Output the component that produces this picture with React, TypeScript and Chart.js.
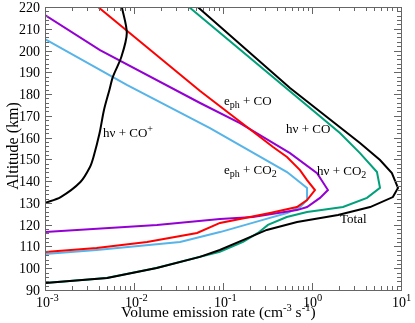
import React, { useEffect, useRef } from "react";
import { Chart, registerables } from "chart.js";

Chart.register(...registerables);

// Data (altitude in km, volume emission rate in cm^-3 s^-1)
const totalAlt = [220, 182.8, 157.5, 149.7, 143.7, 136.9, 132.7, 128.1, 124.5, 121.2, 117.6, 113, 108.4, 105.2, 100.1, 95.5, 93.2];
const totalVal = [0.052, 0.566, 3.46, 5.81, 7.9, 9.25, 8.1, 4.5, 1.96, 0.68, 0.31, 0.17, 0.092, 0.055, 0.018, 0.005, 0.001];

const hvCOAlt = [220, 162.1, 152.9, 144.2, 136.9, 132.3, 128.1, 125.8, 123.5, 119.9, 116.2, 112.1, 107.5, 105.2, 100.1, 95.5, 93.2];
const hvCOVal = [0.0415, 2.06, 3.46, 5.37, 5.81, 4.15, 2.23, 0.88, 0.52, 0.32, 0.247, 0.168, 0.092, 0.054, 0.0178, 0.0049, 0.001];

const ephCOAlt = [220, 181.4, 155.7, 151.1, 145.1, 140.5, 135.9, 131.3, 128.1, 125.4, 120.8, 116.2, 112.1, 109.3, 107.5];
const ephCOVal = [0.00395, 0.0553, 0.365, 0.524, 0.733, 0.88, 1.08, 0.88, 0.677, 0.337, 0.0925, 0.0511, 0.014, 0.0038, 0.001];

const hvCO2Alt = [216.3, 200.2, 175.9, 166.7, 152.9, 143.7, 135.9, 132.3, 128.1, 126.7, 123.5, 122.6, 119.9, 116.6];
const hvCO2Val = [0.001, 0.00415, 0.0553, 0.155, 0.566, 1.14, 1.51, 1.23, 0.88, 0.677, 0.217, 0.0925, 0.0181, 0.001];

const ephCO2Alt = [205.3, 184.2, 164.4, 144.2, 136.9, 131.3, 128.1, 125.4, 122.2, 116.6, 112.1, 108.4, 106.5];
const ephCO2Val = [0.001, 0.0083, 0.0714, 0.524, 0.88, 0.88, 0.733, 0.524, 0.281, 0.0925, 0.0329, 0.0038, 0.001];

const hvCOpAlt = [220, 208, 197, 188, 182, 172.7, 162, 151, 146.5, 139.6, 132.7, 130];
const hvCOpVal = [0.0073, 0.0083, 0.0072, 0.0058, 0.0053, 0.0046, 0.0041, 0.0035, 0.0032, 0.0025, 0.0015, 0.001];

const xExponents = [-3, -2, -1, 0, 1];
const yTickValues = [90, 100, 110, 120, 130, 140, 150, 160, 170, 180, 190, 200, 210, 220];

const FONT = "'Liberation Serif', 'Times New Roman', serif";

type Piece = { t: string; dy?: number; size?: number };

function drawRich(ctx: CanvasRenderingContext2D, x: number, y: number, pieces: Piece[], base: number) {
  let cx = x;
  for (const p of pieces) {
    const s = p.size ?? base;
    ctx.font = `${s}px ${FONT}`;
    ctx.fillText(p.t, cx, y + (p.dy ?? 0));
    cx += ctx.measureText(p.t).width;
  }
}

const toPts = (alt: number[], val: number[]) => alt.map((a, i) => ({ x: val[i], y: a }));

const framePlugin = {
  id: "frame",
  afterDatasetsDraw(chart: any) {
    const { ctx, chartArea, scales } = chart;
    const { left, right, top, bottom } = chartArea;
    const xs = scales.x;
    const ys = scales.y;
    ctx.save();
    ctx.strokeStyle = "#666";
    ctx.lineWidth = 1;
    ctx.strokeRect(Math.round(left) + 0.5, Math.round(top) + 0.5, Math.round(right - left), Math.round(bottom - top));
    ctx.beginPath();
    for (let v = 90; v <= 220; v += 2) {
      const py = Math.round(ys.getPixelForValue(v)) + 0.5;
      const len = v % 10 === 0 ? 7 : 4;
      ctx.moveTo(left, py);
      ctx.lineTo(left + len, py);
      ctx.moveTo(right, py);
      ctx.lineTo(right - len, py);
    }
    for (const e of xExponents) {
      for (let m = 1; m <= 9; m++) {
        if (e === 1 && m > 1) break;
        const v = m * Math.pow(10, e);
        const px = Math.round(xs.getPixelForValue(v)) + 0.5;
        const len = m === 1 ? 7 : 4;
        ctx.moveTo(px, bottom);
        ctx.lineTo(px, bottom - len);
        ctx.moveTo(px, top);
        ctx.lineTo(px, top + len);
      }
    }
    ctx.stroke();

    ctx.fillStyle = "#000";
    ctx.textBaseline = "alphabetic";
    // y tick labels
    ctx.textAlign = "right";
    ctx.font = `14px ${FONT}`;
    for (const v of yTickValues) {
      const py = ys.getPixelForValue(v);
      ctx.fillText(String(v), left - 5, py + 5);
    }
    ctx.textAlign = "left";
    // x tick labels
    for (const e of xExponents) {
      const px = xs.getPixelForValue(Math.pow(10, e));
      drawRich(ctx, px - 9, 307, [{ t: "10" }, { t: e < 0 ? "-" + Math.abs(e) : String(e), dy: -6, size: 10.5 }], 14);
    }
    // axis titles
    drawRich(ctx, 121, 317, [
      { t: "Volume emission rate (cm" },
      { t: "-3", dy: -6, size: 10.5 },
      { t: " s" },
      { t: "-1", dy: -6, size: 10.5 },
      { t: ")" },
    ], 15.5);
    ctx.save();
    ctx.translate(18, 146);
    ctx.rotate(-Math.PI / 2);
    ctx.textAlign = "center";
    ctx.font = `16px ${FONT}`;
    ctx.fillText("Altitude (km)", 0, 0);
    ctx.restore();

    // curve labels
    ctx.textAlign = "left";
    drawRich(ctx, 224, 105, [{ t: "e" }, { t: "ph", dy: 3, size: 10 }, { t: " + CO" }], 13);
    drawRich(ctx, 286, 133, [{ t: "h\u03bd + CO" }], 13);
    drawRich(ctx, 224, 174, [{ t: "e" }, { t: "ph", dy: 3, size: 10 }, { t: " + CO" }, { t: "2", dy: 3, size: 10 }], 13);
    drawRich(ctx, 317, 175, [{ t: "h\u03bd + CO" }, { t: "2", dy: 3, size: 10 }], 13);
    drawRich(ctx, 340, 223, [{ t: "Total" }], 13);
    drawRich(ctx, 103, 137, [{ t: "h\u03bd + CO" }, { t: "+", dy: -5, size: 10 }], 13);
    ctx.restore();
  },
};

export default function App() {
  const ref = useRef<HTMLCanvasElement | null>(null);
  useEffect(() => {
    document.body.style.margin = "0";
    const ds = (label: string, alt: number[], val: number[], color: string, tension = 0) => ({
      label,
      data: toPts(alt, val),
      borderColor: color,
      backgroundColor: color,
      borderWidth: 2,
      pointRadius: 0,
      fill: false,
      tension,
    });
    const chart = new Chart(ref.current as HTMLCanvasElement, {
      type: "line",
      data: {
        datasets: [
          ds("Total", totalAlt, totalVal, "#000000"),
          ds("h\u03bd + CO+", hvCOpAlt, hvCOpVal, "#000000", 0.3),
          ds("h\u03bd + CO", hvCOAlt, hvCOVal, "#00A07A"),
          ds("e_ph + CO", ephCOAlt, ephCOVal, "#FF0000"),
          ds("h\u03bd + CO2", hvCO2Alt, hvCO2Val, "#9400D3"),
          ds("e_ph + CO2", ephCO2Alt, ephCO2Val, "#56B4E9"),
        ],
      },
      options: {
        responsive: false,
        animation: false,
        parsing: true,
        layout: { padding: { left: 45, right: 14, top: 7, bottom: 33 } },
        plugins: { legend: { display: false }, tooltip: { enabled: false } },
        scales: {
          x: { type: "logarithmic", min: 0.001, max: 10, display: false },
          y: { type: "linear", min: 90, max: 220, display: false },
        },
      },
      plugins: [framePlugin],
    });
    return () => chart.destroy();
  }, []);
  return (
    <div style={{ width: 415, height: 323, background: "#fff" }}>
      <canvas ref={ref} width={415} height={323} />
    </div>
  );
}
